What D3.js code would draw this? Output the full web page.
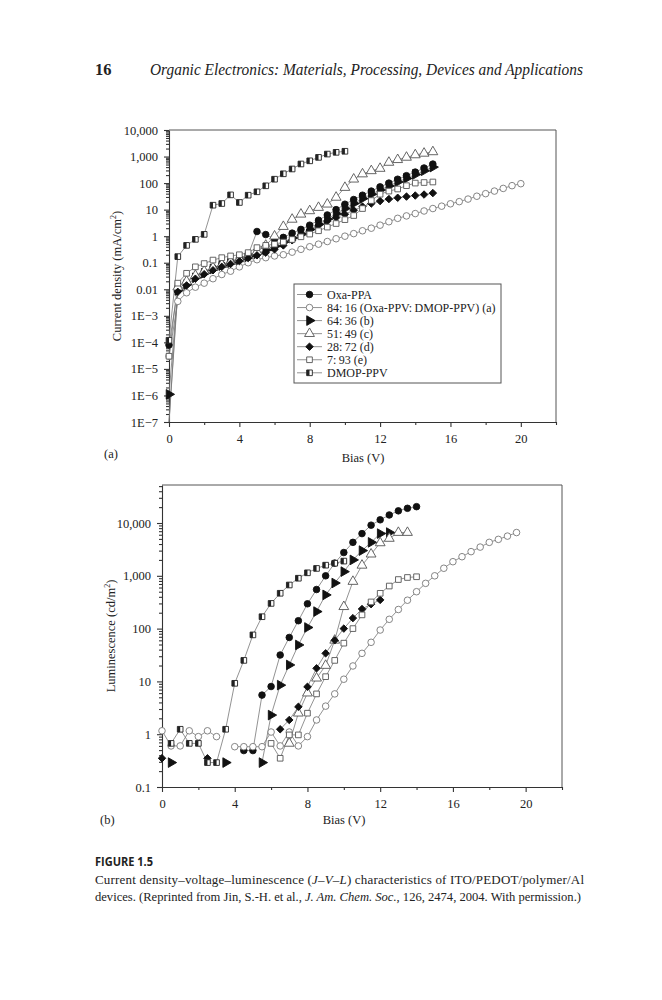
<!DOCTYPE html>
<html>
<head>
<meta charset="utf-8">
<script src="https://cdn.jsdelivr.net/npm/d3@7"></script>
<style>
  body { margin: 0; background: #fff; }
  svg { display: block; }
</style>
</head>
<body>
<svg width="662" height="1000"></svg>
<script>
// bias steps (V), shared by every series
const bias = [0,0.5,1,1.5,2,2.5,3,3.5,4,4.5,5,5.5,6,6.5,7,7.5,8,8.5,9,9.5,10,
              10.5,11,11.5,12,12.5,13,13.5,14,14.5,15,15.5,16,16.5,17,17.5,18,18.5,19,19.5,20];

const seriesNames = ["Oxa-PPA", "84:\u200916 (Oxa-PPV:\u2009DMOP-PPV) (a)", "64:\u200936 (b)",
                     "51:\u200949 (c)", "28:\u200972 (d)", "7:\u200993 (e)", "DMOP-PPV"];

// (a) current density, mA/cm2
const jOxaPPA = [8e-5,0.01,0.018,0.03,0.045,0.065,0.085,0.11,0.15,0.2,1.5,1.15,0.8,0.9,1.3,1.8,
                 2.6,4,6.3,10,16,24,35,50,72,100,140,190,260,370,520];
const j8416   = [3e-5,0.0035,0.0074,0.012,0.017,0.025,0.036,0.048,0.07,0.1,0.13,0.155,0.18,0.2,
                 0.25,0.32,0.4,0.5,0.63,0.8,1.0,1.25,1.6,2.0,2.6,3.5,4.7,5.8,7.1,8.9,11,13.5,16.6,
                 20,25,32,40,50,63,80,95];
const j6436   = [1.1e-6,0.009,0.015,0.027,0.04,0.058,0.078,0.1,0.13,0.17,0.22,0.3,0.42,0.6,0.85,
                 1.2,1.8,2.8,4.4,7,11,17,26,38,55,78,110,150,210,290,400];
const j5149   = [1e-7,0.012,0.02,0.033,0.048,0.065,0.085,0.11,0.14,0.18,0.26,0.45,1.0,2.3,4.3,6.7,
                 9,12,16,29,68,140,220,290,355,600,760,930,1150,1320,1500];
const j2872   = [1e-7,0.008,0.014,0.025,0.037,0.052,0.07,0.09,0.115,0.15,0.19,0.24,0.32,0.45,0.7,
                 1.1,1.7,2.6,3.7,5,6.7,9.5,13,17,21,25,28,31,34,37,42];
const j0793   = [3e-5,0.017,0.04,0.07,0.093,0.126,0.155,0.18,0.2,0.24,0.37,0.45,0.5,0.6,0.75,0.95,
                 1.2,1.6,2.2,3,4.2,6,11,22,38,50,60,80,100,105,110];
const jDMOP   = [1.2e-4,0.17,0.45,0.76,1.17,14.7,17,36,18.6,35,47,79,140,224,340,525,690,930,
                 1240,1440,1580];

// (b) luminescence, cd/m2  (null = no point)
const lOxaPPA = [null,null,null,null,null,null,null,null,null,0.49,0.49,5.5,8,31.6,68,141,295,550,
                 1000,1740,2760,4300,6300,9100,11500,14200,17000,19000,20400];
const l8416   = [1.16,0.6,0.6,1.16,0.9,1.16,0.9,null,0.58,0.58,0.58,0.58,1.1,0.6,1.1,0.6,0.9,1.86,
                 3.4,5.8,11,19.6,34,55,94,150,230,345,500,720,1000,1390,1850,2300,2870,3500,4300,
                 4900,5650,6600];
const l6436   = [null,0.29,null,null,null,null,null,0.29,null,null,null,0.29,2.3,8.5,20.5,49,105,
                 210,435,730,1200,2000,3000,4300,6300,6600];
const l5149   = [null,null,null,null,null,null,null,null,null,null,null,null,null,null,0.67,2.5,6,
                 11.5,20,60,260,780,1580,2570,4200,5100,6600,6600];
const l2872   = [0.35,null,null,null,null,0.35,null,null,null,null,null,null,null,1.24,1.86,3.3,7.9,
                 17.7,34,60,100,158,235,290,350];
const l0793   = [null,null,null,null,null,null,null,null,null,null,null,null,0.67,0.35,0.97,0.97,
                 2.5,5.8,12.3,25,53,100,182,320,466,640,850,930,960];
const lDMOP   = [null,0.67,1.24,0.67,0.67,0.29,0.29,1.24,9.2,25,76,168,300,467,670,900,1140,1380,
                 1590,1730,1900];

const xTicks = [0,4,8,12,16,20];
const xMinor = [2,6,10,14,18,22];
const yTicksA = [1e-7,1e-6,1e-5,1e-4,1e-3,0.01,0.1,1,10,100,1000,10000];
const yLabelsA = ["1E\u22127","1E\u22126","1E\u22125","1E\u22124","1E\u22123","0.01","0.1","1","10","100","1,000","10,000"];
const yTicksB = [0.1,1,10,100,1000,10000];
const yLabelsB = ["0.1","1","10","100","1,000","10,000"];

const serif = '"Liberation Serif","DejaVu Serif",serif';
const svg = d3.select("svg");

const markStyle = [
  {type: d3.symbolCircle,   size: 34, fill: "#111", stroke: "#111"},
  {type: d3.symbolCircle,   size: 34, fill: "#fff", stroke: "#777"},
  {type: d3.symbolTriangle, size: 40, fill: "#111", stroke: "#111", rot: 90},
  {type: d3.symbolTriangle, size: 42, fill: "#fff", stroke: "#555"},
  {type: d3.symbolSquare,   size: 28, fill: "#111", stroke: "#111", rot: 45},
  {type: d3.symbolSquare,   size: 32, fill: "#fff", stroke: "#555"},
  {type: d3.symbolSquare,   size: 32, fill: "#fff", stroke: "#222", half: true}
];

function marker(g, k, cx, cy) {
  const s = markStyle[k];
  const m = g.append("g").attr("transform", "translate(" + cx + "," + cy + ")");
  m.append("path")
    .attr("d", d3.symbol().type(s.type).size(s.size)())
    .attr("transform", s.rot ? "rotate(" + s.rot + ")" : null)
    .attr("fill", s.fill)
    .attr("stroke", s.stroke)
    .attr("stroke-width", 0.9);
  if (s.half) {
    const a = Math.sqrt(s.size);
    m.append("rect").attr("x", -a/2).attr("y", -a/2).attr("width", a/2).attr("height", a)
      .attr("fill", "#222");
  }
}

function panel(o) {
  const g = svg.append("g");
  const x = d3.scaleLinear().domain([0, 22]).range([o.left, o.right]);
  const y = d3.scaleLog().domain(o.yDomain).range([o.bottom, o.top]);

  // top and right frame
  g.append("path")
    .attr("d", "M" + o.left + "," + o.top + "H" + o.right + "V" + o.bottom)
    .attr("fill", "none").attr("stroke", "#555").attr("stroke-width", 1);

  // minor log ticks
  const minor = [];
  const e0 = Math.floor(Math.log10(o.yDomain[0])), e1 = Math.ceil(Math.log10(o.yDomain[1]));
  for (let e = e0; e < e1; e++)
    for (let m = 2; m <= 9; m++) {
      const v = m * Math.pow(10, e);
      if (v > o.yDomain[0] && v < o.yDomain[1]) minor.push(v);
    }
  g.append("g").attr("transform", "translate(" + o.left + ",0)")
    .call(d3.axisLeft(y).tickValues(minor).tickSize(3).tickFormat(""))
    .call(s => s.select(".domain").remove());
  g.append("g").attr("transform", "translate(" + o.left + ",0)")
    .call(d3.axisLeft(y).tickValues(o.yTicks).tickFormat((d, i) => o.yLabels[i])
      .tickSize(5).tickSizeOuter(0).tickPadding(6))
    .attr("font-family", serif).attr("font-size", 12.5);

  g.append("g").attr("transform", "translate(0," + o.bottom + ")")
    .call(d3.axisBottom(x).tickValues(xMinor).tickSize(3).tickFormat(""))
    .call(s => s.select(".domain").remove());
  g.append("g").attr("transform", "translate(0," + o.bottom + ")")
    .call(d3.axisBottom(x).tickValues(xTicks).tickSize(5).tickSizeOuter(0).tickPadding(7))
    .attr("font-family", serif).attr("font-size", 12.5);

  g.selectAll(".tick line, .domain").attr("stroke", "#333").attr("stroke-width", 1.1);
  g.selectAll(".tick text").attr("fill", "#222");

  // series
  const line = d3.line()
    .defined(d => d.v != null)
    .x(d => x(d.b))
    .y(d => y(d.v));
  o.series.forEach((vals, k) => {
    const pts = vals.map((v, i) => ({b: bias[i], v: v}));
    g.append("path").datum(pts)
      .attr("d", line)
      .attr("fill", "none").attr("stroke", "#777").attr("stroke-width", 0.8);
  });
  o.series.forEach((vals, k) => {
    vals.forEach((v, i) => {
      if (v != null && v > o.yDomain[0]) marker(g, k, x(bias[i]), y(v));
    });
  });

  // titles
  g.append("text").attr("x", o.xTitleX).attr("y", o.xTitleY)
    .attr("text-anchor", "middle").attr("font-family", serif).attr("font-size", 12.5)
    .attr("fill", "#222").text("Bias (V)");
  const yt = g.append("text")
    .attr("transform", "translate(" + o.yTitleX + "," + (o.top + o.bottom) / 2 + ") rotate(-90)")
    .attr("text-anchor", "middle").attr("font-family", serif).attr("font-size", 12.5)
    .attr("fill", "#222");
  yt.append("tspan").text(o.yTitle);
  yt.append("tspan").attr("font-size", 8).attr("dy", -5).text("2");
  yt.append("tspan").attr("dy", 5).text(")");
  g.append("text").attr("x", o.tagX).attr("y", o.tagY)
    .attr("font-family", serif).attr("font-size", 12.5).attr("fill", "#222").text(o.tag);

  return {g: g, x: x, y: y};
}

// (a)
const pa = panel({
  left: 169, right: 556, top: 130, bottom: 422,
  yDomain: [1e-7, 1e4], yTicks: yTicksA, yLabels: yLabelsA,
  series: [jOxaPPA, j8416, j6436, j5149, j2872, j0793, jDMOP],
  xTitleX: 363, xTitleY: 462, yTitleX: 121, yTitle: "Current density (mA/cm",
  tag: "(a)", tagX: 104, tagY: 458
});

// legend
const lg = pa.g.append("g");
lg.append("rect").attr("x", 294).attr("y", 284).attr("width", 207).attr("height", 99)
  .attr("fill", "#fff").attr("stroke", "#555").attr("stroke-width", 1);
seriesNames.forEach((name, k) => {
  const ry = 294.5 + k * 13.05;
  lg.append("line").attr("x1", 297).attr("x2", 322).attr("y1", ry).attr("y2", ry)
    .attr("stroke", "#777").attr("stroke-width", 0.8);
  marker(lg, k, 309.5, ry);
  lg.append("text").attr("x", 327).attr("y", ry + 4.2)
    .attr("font-family", serif).attr("font-size", 12).attr("fill", "#222").text(name);
});

// (b)
panel({
  left: 162, right: 562, top: 485, bottom: 787,
  yDomain: [0.1, Math.pow(10, 4.72)], yTicks: yTicksB, yLabels: yLabelsB,
  series: [lOxaPPA, l8416, l6436, l5149, l2872, l0793, lDMOP],
  xTitleX: 344, xTitleY: 824, yTitleX: 115, yTitle: "Luminescence (cd/m",
  tag: "(b)", tagX: 100, tagY: 824
});

// page header
svg.append("text").attr("x", 95).attr("y", 75)
  .attr("font-family", serif).attr("font-size", 16.5).attr("font-weight", "bold").attr("fill", "#222")
  .text("16");
svg.append("text").attr("x", 150).attr("y", 75)
  .attr("font-family", serif).attr("font-size", 16.5).attr("font-style", "italic").attr("fill", "#222")
  .attr("textLength", 433).attr("lengthAdjust", "spacingAndGlyphs")
  .text("Organic Electronics: Materials, Processing, Devices and Applications");

// caption
svg.append("text").attr("x", 95).attr("y", 866)
  .attr("font-family", '"Open Sans","DejaVu Sans",sans-serif').attr("font-size", 11.5)
  .attr("font-weight", "bold").attr("fill", "#222")
  .attr("textLength", 58).attr("lengthAdjust", "spacingAndGlyphs")
  .text("FIGURE 1.5");

const c1 = svg.append("text").attr("x", 95).attr("y", 884)
  .attr("font-family", serif).attr("font-size", 13).attr("fill", "#222")
  .attr("textLength", 489).attr("lengthAdjust", "spacing");
c1.append("tspan").text("Current density\u2013voltage\u2013luminescence (");
c1.append("tspan").attr("font-style", "italic").text("J\u2013V\u2013L");
c1.append("tspan").text(") characteristics of ITO/PEDOT/polymer/Al");

const c2 = svg.append("text").attr("x", 95).attr("y", 901)
  .attr("font-family", serif).attr("font-size", 13).attr("fill", "#222")
  .attr("textLength", 486).attr("lengthAdjust", "spacingAndGlyphs");
c2.append("tspan").text("devices. (Reprinted from Jin, S.-H. et al., ");
c2.append("tspan").attr("font-style", "italic").text("J. Am. Chem. Soc.");
c2.append("tspan").text(", 126, 2474, 2004. With permission.)");
</script>
</body>
</html>
